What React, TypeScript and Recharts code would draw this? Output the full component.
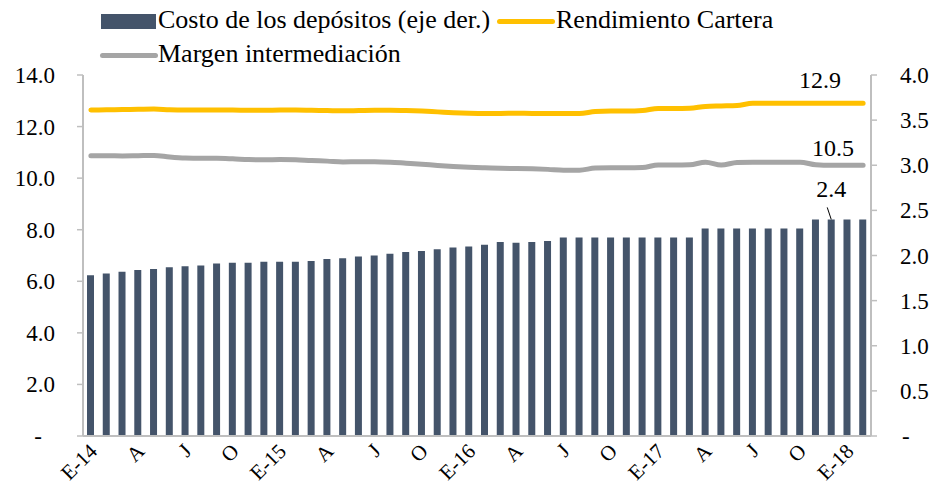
import React from "react"
import {
  ComposedChart,
  Bar,
  Line,
  XAxis,
  YAxis,
  LabelList,
} from "recharts"

// Meses (E = enero), enero 2014 a febrero 2018
const meses = [
  "E-14", "F", "M", "A", "M", "J", "J", "A", "S", "O", "N", "D",
  "E-15", "F", "M", "A", "M", "J", "J", "A", "S", "O", "N", "D",
  "E-16", "F", "M", "A", "M", "J", "J", "A", "S", "O", "N", "D",
  "E-17", "F", "M", "A", "M", "J", "J", "A", "S", "O", "N", "D",
  "E-18", "F",
]

// Costo de los depósitos (eje derecho)
const costoDepositos = [
  1.78, 1.8, 1.82, 1.84, 1.85, 1.87, 1.88, 1.89, 1.91, 1.92, 1.92, 1.93,
  1.93, 1.93, 1.94, 1.96, 1.97, 1.99, 2.0, 2.02, 2.04, 2.05, 2.07, 2.09,
  2.1, 2.12, 2.15, 2.14, 2.15, 2.16, 2.2, 2.2, 2.2, 2.2, 2.2, 2.2,
  2.2, 2.2, 2.2, 2.3, 2.3, 2.3, 2.3, 2.3, 2.3, 2.3, 2.4, 2.4,
  2.4, 2.4,
]

// Rendimiento cartera (eje izquierdo)
const rendimientoCartera = [
  12.64, 12.65, 12.66, 12.67, 12.68, 12.65, 12.64, 12.64, 12.64, 12.64, 12.63, 12.63,
  12.64, 12.64, 12.63, 12.62, 12.61, 12.62, 12.63, 12.63, 12.62, 12.6, 12.57, 12.54,
  12.52, 12.51, 12.51, 12.52, 12.51, 12.51, 12.51, 12.51, 12.58, 12.6, 12.6, 12.62,
  12.7, 12.7, 12.71, 12.78, 12.8, 12.82, 12.9, 12.9, 12.9, 12.9, 12.9, 12.9,
  12.9, 12.9,
]

// Margen de intermediación (eje izquierdo)
const margenIntermediacion = [
  10.87, 10.87, 10.86, 10.87, 10.88, 10.82, 10.78, 10.77, 10.77, 10.75, 10.72, 10.71,
  10.72, 10.71, 10.68, 10.66, 10.63, 10.64, 10.64, 10.62, 10.58, 10.54, 10.49, 10.45,
  10.42, 10.4, 10.38, 10.37, 10.36, 10.34, 10.31, 10.31, 10.39, 10.4, 10.4, 10.41,
  10.51, 10.51, 10.52, 10.62, 10.51, 10.61, 10.62, 10.62, 10.62, 10.62, 10.52, 10.5,
  10.5, 10.5,
]

const ticksIzq = [0, 2, 4, 6, 8, 10, 12, 14]
const ticksDer = [0, 0.5, 1, 1.5, 2, 2.5, 3, 3.5, 4]

const data = meses.map((mes, i) => ({
  mes,
  costo: costoDepositos[i],
  rend: rendimientoCartera[i],
  margen: margenIntermediacion[i],
}))

const SERIF = "Liberation Serif"
const AXIS = "#bfbfbf"
const last = meses.length - 1

const fmt = (v: number) => (v === 0 ? "-" : v.toFixed(1))

const LeftTick = ({ x, y, payload }: any) => (
  <text x={payload.value === 0 ? x - 13 : x} y={y} dy="0.35em" textAnchor="end"
    style={{ fontFamily: SERIF, fontSize: 23, fill: "#000" }}>
    {fmt(payload.value)}
  </text>
)

const RightTick = ({ x, y, payload }: any) => (
  <text x={payload.value === 0 ? x + 2 : x} y={y} dy="0.35em" textAnchor="start"
    style={{ fontFamily: SERIF, fontSize: 23, fill: "#000" }}>
    {fmt(payload.value)}
  </text>
)

const MonthTick = ({ x, y, payload }: any) => (
  <g transform={`translate(${x + 3},${y})`}>
    <text textAnchor="end" transform="rotate(-45)" dy="0.3em"
      style={{ fontFamily: SERIF, fontSize: 21, fill: "#000" }}>
      {payload.value}
    </text>
  </g>
)

const EndLabel = (dx: number, dy: number) => (props: any) => {
  if (props.index !== last) return null
  return (
    <text x={props.x + dx} y={props.y + dy} textAnchor="middle"
      style={{ fontFamily: SERIF, fontSize: 24, fill: "#000" }}>
      {Number(props.value).toFixed(1)}
    </text>
  )
}

const BarLabel = (props: any) => {
  if (props.index !== 47) return null
  const cx = props.x + props.width / 2
  return (
    <g>
      <line x1={cx - 4} y1={props.y - 12} x2={cx} y2={props.y} stroke="#000" strokeWidth={1} />
      <text x={cx} y={props.y - 22} textAnchor="middle"
        style={{ fontFamily: SERIF, fontSize: 24, fill: "#000" }}>
        {Number(props.value).toFixed(1)}
      </text>
    </g>
  )
}

const legendText: React.CSSProperties = {
  position: "absolute",
  fontFamily: SERIF,
  fontSize: 26,
  lineHeight: "30px",
  color: "#000",
  whiteSpace: "nowrap",
}

export default function App() {
  return (
    <div style={{ position: "absolute", left: 0, top: 0, width: 943, height: 488, background: "#fff" }}>
      <div style={{ position: "absolute", left: 101, top: 14, width: 55, height: 15, background: "#44546a" }} />
      <div style={{ ...legendText, left: 158, top: 5 }}>Costo de los depósitos (eje der.)</div>
      <div style={{ position: "absolute", left: 497, top: 19, width: 58, height: 5, borderRadius: 3, background: "#ffc000" }} />
      <div style={{ ...legendText, left: 556, top: 5 }}>Rendimiento Cartera</div>
      <div style={{ position: "absolute", left: 100, top: 53, width: 58, height: 5, borderRadius: 3, background: "#a5a5a5" }} />
      <div style={{ ...legendText, left: 158, top: 39 }}>Margen intermediación</div>

      <ComposedChart width={943} height={488} data={data}
        margin={{ top: 75, right: 0, bottom: 0, left: 0 }}>
        <XAxis dataKey="mes" interval={2} tickLine={false} tick={<MonthTick />}
          axisLine={{ stroke: AXIS, strokeWidth: 2 }} height={52} tickMargin={6} />
        <YAxis yAxisId="left" orientation="left" domain={[0, 14]} ticks={ticksIzq}
          width={83} tickSize={6} tickMargin={22} tick={<LeftTick />}
          axisLine={{ stroke: AXIS, strokeWidth: 2 }} tickLine={{ stroke: AXIS, strokeWidth: 1.5 }} />
        <YAxis yAxisId="right" orientation="right" domain={[0, 4]} ticks={ticksDer}
          width={72} tickSize={6} tickMargin={23} tick={<RightTick />}
          axisLine={{ stroke: AXIS, strokeWidth: 2 }} tickLine={{ stroke: AXIS, strokeWidth: 1.5 }} />
        <Bar yAxisId="right" dataKey="costo" fill="#44546a" barSize={7} isAnimationActive={false}>
          <LabelList dataKey="costo" content={BarLabel} />
        </Bar>
        <Line yAxisId="left" type="monotone" dataKey="rend" stroke="#ffc000" strokeWidth={5}
          strokeLinecap="round" dot={false} isAnimationActive={false}>
          <LabelList dataKey="rend" content={EndLabel(-43, -15)} />
        </Line>
        <Line yAxisId="left" type="monotone" dataKey="margen" stroke="#a5a5a5" strokeWidth={5}
          strokeLinecap="round" dot={false} isAnimationActive={false}>
          <LabelList dataKey="margen" content={EndLabel(-30, -9)} />
        </Line>
      </ComposedChart>
    </div>
  )
}
